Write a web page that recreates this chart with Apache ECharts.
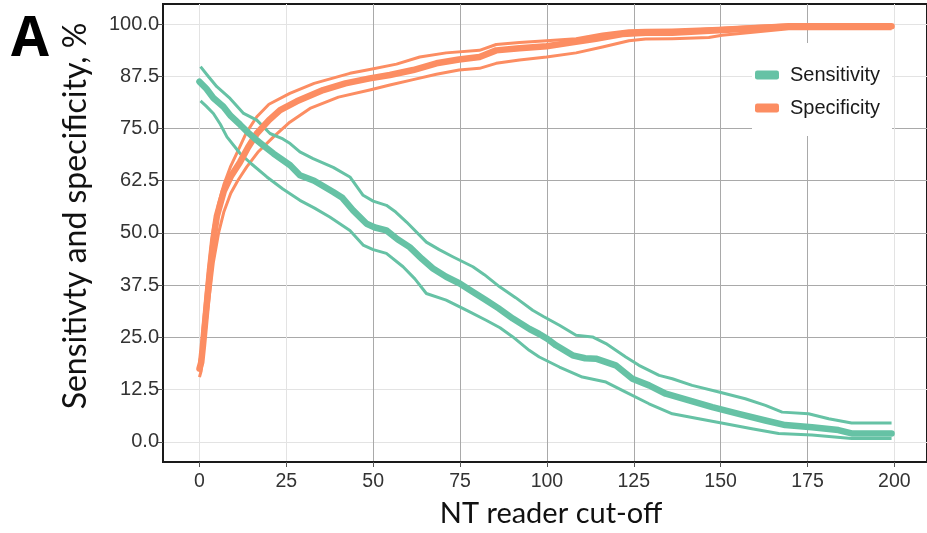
<!DOCTYPE html>
<html>
<head>
<meta charset="utf-8">
<script src="https://cdn.jsdelivr.net/npm/echarts@6/dist/echarts.min.js"></script>
<style>
html,body{margin:0;padding:0;background:#fff;}
#chart{width:927px;height:533px;}
</style>
</head>
<body>
<div id="chart"></div>
<script>
// Tick values
const xTicks = [0, 25, 50, 75, 100, 125, 150, 175, 200];
const yTicks = [0, 12.5, 25, 37.5, 50, 62.5, 75, 87.5, 100];

// Sensitivity (estimate and confidence bounds), [cut-off, %]
const sensMain = [[0,86.2],[2,84.5],[4,82.3],[6.9,80.2],[9,78],[11.7,75.9],[14,74],[16.5,72.2],[19,70.5],[21.3,69.0],[26.1,66.2],[28.9,63.8],[33,62.5],[38.5,59.8],[41,58.5],[44.2,55.4],[48.1,52.2],[50.5,51.3],[53.8,50.6],[57,48.5],[60.5,46.6],[64,43.8],[67.2,41.5],[71,39.5],[74.9,37.9],[78.5,36],[82.5,33.9],[86,32],[90.2,29.5],[95,27],[97.8,25.8],[100.2,24.6],[102.6,23.1],[107.4,20.7],[111,20],[114.1,19.9],[119.8,18.3],[124.6,15.1],[129.4,13.5],[134.2,11.5],[140.9,9.9],[147.6,8.3],[155.2,6.7],[162.9,5.1],[168.6,4.0],[176.3,3.5],[183.9,2.8],[187.7,2.0],[199.2,2.0]];
const sensUpper = [[0.3,89.8],[2.5,87.5],[5,85],[8.8,82.2],[12.7,78.6],[16.5,77.0],[20.3,73.8],[24,72.5],[26.1,71.4],[28.9,69.4],[32.7,67.8],[38.5,65.7],[43.3,63.4],[47.1,59.0],[50,57.6],[53.8,56.6],[56.5,55],[59.6,52.6],[65.3,47.8],[69,46],[72.9,44.3],[78.7,41.9],[82,40],[86.4,37.1],[91,34.5],[95.9,31.5],[99,30],[103.6,27.9],[108.4,25.5],[113.1,25.1],[117,23.5],[122.7,20.3],[126.5,18.3],[132.3,15.9],[136.1,15.1],[141.8,13.5],[149.5,11.9],[157.1,10.3],[162.9,8.7],[167.7,7.1],[175.3,6.7],[181.1,5.5],[187.7,4.5],[199.2,4.5]];
const sensLower = [[0.3,81.6],[2,80.3],[4,78.6],[6,76],[7.9,73.0],[11.7,69.0],[15,66.5],[19.4,63.4],[24,60.5],[28.9,57.8],[33,56],[37.5,53.8],[43.3,50.6],[47.1,47.1],[50,46],[53.8,45.1],[58.6,41.9],[62,39],[65.3,35.5],[71,33.9],[76.8,31.5],[82.5,29.1],[86.5,27.3],[90.2,25.1],[94.9,21.9],[97.8,20.3],[103.6,17.9],[110.2,15.5],[117,14.3],[122.7,11.9],[129.4,9.1],[136.1,6.7],[143.7,5.5],[151.4,4.3],[159,3.1],[166.7,2.0],[176.3,1.6],[187.7,0.8],[199.2,0.8]];

// Specificity (estimate and confidence bounds), [cut-off, %]
const specMain = [[0,17.5],[0.5,19],[1,23],[2,32],[3,41],[4,48.5],[5,54],[7,60],[9,63.5],[11.7,67],[14,70.5],[16.5,73.8],[20,77],[23.2,79.4],[28,81.5],[35.6,84.2],[42,85.8],[49,87.0],[54.8,87.8],[61.5,89.0],[68.2,90.6],[74.7,91.5],[80.6,92.1],[85.4,93.7],[92.1,94.2],[99.9,94.7],[106.4,95.5],[114.1,96.5],[121.7,97.6],[128.4,97.9],[136.1,97.9],[149.5,98.5],[160,99.0],[169.6,99.5],[199.2,99.5]];
const specUpper = [[0,19],[0.5,21],[1,27],[2,36],[3,44],[4,51],[5.5,57],[7,61.5],[9,66],[11,69.5],[13.5,74],[16.5,77.8],[20,80.8],[26,83.4],[33,85.8],[43.3,88.2],[49,89.1],[56.7,90.4],[63.4,92.1],[71,93.1],[80.6,93.7],[85.4,95.1],[92.1,95.6],[99.9,96.0],[108.4,96.5],[116,97.6],[123.6,98.4],[128.4,98.5],[136,98.6],[149.5,99.0],[160,99.5],[169.6,99.8],[199.2,99.8]];
const specLower = [[0,15.5],[0.5,17],[1,21],[2,29],[3,36],[4,43],[5.5,50],[7,55],[9,59.5],[11,62.5],[13.6,65.8],[17,69.5],[21.3,73],[26,76.5],[31.8,79.8],[40,82.5],[49,84.2],[54.8,85.4],[61.5,86.7],[68.2,88.0],[74.7,89.0],[80.6,89.4],[85.4,90.6],[92.1,91.4],[99.9,92.1],[108.4,93.1],[116,94.5],[123.6,96.0],[128.4,96.4],[136.1,96.5],[146.6,96.8],[150.4,97.3],[160,98.1],[169.6,98.9],[199.2,98.9]];

const GREEN = '#66c2a5';
const ORANGE = '#fc8d62';
const LIGHT = '#e3e3e3';
const DARK = '#a9a9a9';

const chart = echarts.init(document.getElementById('chart'), null, {renderer: 'canvas'});

function mainSeries(name, data, color) {
  return {
    name: name, type: 'line', data: data, color: color,
    symbol: 'circle', symbolSize: 8, showSymbol: false,
    lineStyle: {width: 6.5, color: color, cap: 'round', join: 'round'},
    itemStyle: {color: color},
    z: 4, silent: true
  };
}
function ciSeries(name, data, color) {
  return {
    name: name, type: 'line', data: data, color: color,
    symbol: 'none', showSymbol: false,
    lineStyle: {width: 3, color: color, join: 'round'},
    z: 3, silent: true
  };
}

chart.setOption({
  animation: false,
  backgroundColor: '#ffffff',
  grid: {
    left: 163, top: 4, right: -2, bottom: 71,
    show: true, borderColor: '#1a1a1a', borderWidth: 2, backgroundColor: '#ffffff'
  },
  xAxis: {
    type: 'value', min: -10.5, max: 209.4,
    axisLine: {show: true, onZero: false, lineStyle: {color: '#1a1a1a', width: 2}},
    axisTick: {show: true, customValues: xTicks, length: 5, lineStyle: {color: '#555'}},
    axisLabel: {customValues: xTicks, color: '#333', fontSize: 19.5, fontFamily: 'Liberation Sans', margin: 10},
    splitLine: {show: true, lineStyle: {color: [LIGHT, LIGHT, DARK, DARK, DARK, DARK, DARK, DARK, LIGHT], width: 1}}
  },
  yAxis: {
    type: 'value', min: -4.84, max: 104.8,
    axisLine: {show: true, onZero: false, lineStyle: {color: '#1a1a1a', width: 2}},
    axisTick: {show: true, customValues: yTicks, length: 5, lineStyle: {color: '#555'}},
    axisLabel: {customValues: yTicks, color: '#333', fontSize: 20, fontFamily: 'Liberation Sans', margin: 4,
      formatter: v => Number(v).toFixed(1)},
    splitLine: {show: true, lineStyle: {color: [LIGHT, LIGHT, DARK, DARK, DARK, DARK, DARK, LIGHT, LIGHT], width: 1}}
  },
  legend: {
    data: ['Sensitivity', 'Specificity'],
    orient: 'vertical', left: 752, top: 43,
    backgroundColor: '#ffffff',
    padding: [22, 12, 18, 3],
    itemGap: 13, itemWidth: 24, itemHeight: 9,
    icon: 'roundRect',
    textStyle: {fontSize: 20, fontFamily: 'Liberation Sans', color: '#1a1a1a', padding: [0, 0, 0, 6]}
  },
  graphic: [
    {type: 'text', left: 11, top: 13, style: {text: 'A', font: 'bold 55px "Open Sans"', fill: '#000'}},
    {type: 'text', x: 76, y: 216, rotation: Math.PI / 2,
      style: {text: 'Sensitivty and specificity, %', font: '32px Lato', fill: '#111', align: 'center', verticalAlign: 'middle'}},
    {type: 'text', x: 551, y: 514,
      style: {text: 'NT reader cut-off', font: '29px Lato', fill: '#111', align: 'center', verticalAlign: 'middle'}}
  ],
  series: [
    ciSeries('Specificity upper', specUpper, ORANGE),
    ciSeries('Specificity lower', specLower, ORANGE),
    mainSeries('Specificity', specMain, ORANGE),
    ciSeries('Sensitivity upper', sensUpper, GREEN),
    ciSeries('Sensitivity lower', sensLower, GREEN),
    mainSeries('Sensitivity', sensMain, GREEN)
  ]
});
</script>
</body>
</html>
